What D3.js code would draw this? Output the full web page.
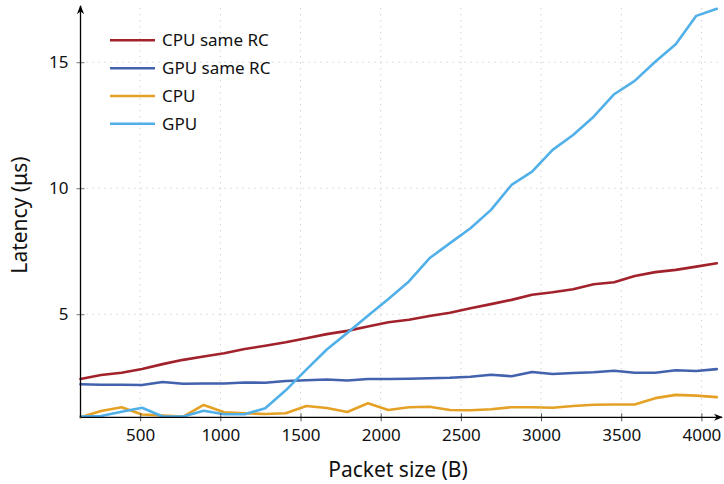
<!DOCTYPE html>
<html>
<head>
<meta charset="utf-8">
<script src="https://cdn.jsdelivr.net/npm/d3@7"></script>
<style>
  body { margin: 0; background: #fff; }
  svg { display: block; font-family: "Noto Sans", sans-serif; }
</style>
</head>
<body>
<svg id="chart" width="724" height="484"></svg>
<script>
const packetSizes = d3.range(1, 33).map(k => k * 128);
const seriesNames = ["CPU same RC", "GPU same RC", "CPU", "GPU"];
const cpuSameRC = [2.43, 2.59, 2.68, 2.83, 3.02, 3.19, 3.32, 3.45, 3.62, 3.75, 3.89, 4.05, 4.21, 4.34, 4.51, 4.68,
                   4.78, 4.93, 5.06, 5.24, 5.40, 5.57, 5.77, 5.87, 5.99, 6.19, 6.27, 6.52, 6.67, 6.76, 6.89, 7.02];
const gpuSameRC = [2.22, 2.20, 2.20, 2.19, 2.31, 2.24, 2.25, 2.25, 2.29, 2.28, 2.35, 2.38, 2.41, 2.37, 2.43, 2.43,
                   2.44, 2.46, 2.48, 2.52, 2.60, 2.54, 2.71, 2.63, 2.67, 2.70, 2.76, 2.68, 2.68, 2.78, 2.75, 2.82];
const cpu = [0.91, 1.16, 1.31, 1.02, 0.98, 0.94, 1.40, 1.11, 1.07, 1.04, 1.07, 1.36, 1.28, 1.12, 1.47, 1.20,
             1.31, 1.33, 1.20, 1.19, 1.23, 1.31, 1.31, 1.29, 1.36, 1.41, 1.42, 1.42, 1.67, 1.80, 1.77, 1.71];
const gpu = [0.94, 0.96, 1.13, 1.29, 0.94, 0.94, 1.17, 1.03, 1.03, 1.27, 1.98, 2.80, 3.60, 4.26, 4.94, 5.60,
             6.30, 7.22, 7.82, 8.41, 9.14, 10.13, 10.66, 11.52, 12.11, 12.84, 13.73, 14.26, 15.02, 15.71, 16.84, 17.12];
const xTicks = [500, 1000, 1500, 2000, 2500, 3000, 3500, 4000];
const yTicks = [5, 10, 15];
const colors = ["#a2222c", "#4262ad", "#e4a126", "#52b0e8"];
const allSeries = [cpuSameRC, gpuSameRC, cpu, gpu];

const svg = d3.select("#chart");
const x = d3.scaleLinear().domain([128, 4096]).range([80.5, 716.8]);
const y = d3.scaleLinear().domain([0.91, 17.12]).range([417.3, 8.8]);

// grid
const grid = svg.append("g").attr("stroke", "#c8c8c8").attr("stroke-width", 1).attr("stroke-dasharray", "1.2,4.8");
grid.selectAll(".vg").data(xTicks).join("line")
  .attr("x1", d => x(d)).attr("x2", d => x(d)).attr("y1", y.range()[0]).attr("y2", y.range()[1] - 2);
grid.selectAll(".hg").data(yTicks).join("line")
  .attr("y1", d => y(d)).attr("y2", d => y(d)).attr("x1", x.range()[0]).attr("x2", x.range()[1] + 3);

// lines
const line = d3.line().x((d, i) => x(packetSizes[i])).y(d => y(d));
allSeries.forEach((s, i) => {
  svg.append("path").datum(s).attr("d", line)
    .attr("fill", "none").attr("stroke", colors[i]).attr("stroke-width", 2.6)
    .attr("stroke-linejoin", "round").attr("stroke-linecap", "round");
});

// axes
const xAxis = svg.append("g").attr("transform", `translate(0,${y.range()[0]})`)
  .call(d3.axisBottom(x).tickValues(xTicks).tickFormat(d3.format("d")).tickSize(0).tickPadding(12));
xAxis.select(".domain").remove();
xAxis.selectAll("text").attr("font-size", 17).attr("fill", "#111").attr("font-family", "Noto Sans");
xAxis.selectAll(".tick").append("line").attr("y1", -4).attr("y2", 4).attr("stroke", "#555").attr("stroke-width", 1);

const yAxis = svg.append("g").attr("transform", `translate(${x.range()[0]},0)`)
  .call(d3.axisLeft(y).tickValues(yTicks).tickFormat(d3.format("d")).tickSize(0).tickPadding(12));
yAxis.select(".domain").remove();
yAxis.selectAll("text").attr("font-size", 17).attr("fill", "#111").attr("font-family", "Noto Sans");
yAxis.selectAll(".tick").append("line").attr("x1", -4).attr("x2", 4).attr("stroke", "#777").attr("stroke-width", 1);

// axis lines with arrows
const defs = svg.append("defs");
defs.append("marker").attr("id", "arr").attr("viewBox", "0 0 10 10").attr("refX", 9).attr("refY", 5)
  .attr("markerWidth", 9).attr("markerHeight", 9).attr("markerUnits", "userSpaceOnUse").attr("orient", "auto")
  .append("path").attr("d", "M0,1 L10,5 L0,9 L3,5 Z").attr("fill", "#000");
svg.append("line").attr("x1", x.range()[0]).attr("x2", 722).attr("y1", y.range()[0]).attr("y2", y.range()[0])
  .attr("stroke", "#000").attr("stroke-width", 1.3).attr("marker-end", "url(#arr)");
svg.append("line").attr("x1", x.range()[0]).attr("x2", x.range()[0]).attr("y1", y.range()[0]).attr("y2", 6)
  .attr("stroke", "#000").attr("stroke-width", 1.3).attr("marker-end", "url(#arr)");

// axis titles
svg.append("text").attr("x", 398).attr("y", 477).attr("text-anchor", "middle")
  .attr("font-size", 21).attr("fill", "#111").text("Packet size (B)");
svg.append("text").attr("transform", "translate(27,215) rotate(-90)").attr("text-anchor", "middle")
  .attr("font-size", 21).attr("fill", "#111").text("Latency (μs)");

// legend
const legY = [40.3, 68.3, 96, 123.7];
const leg = svg.append("g");
seriesNames.forEach((n, i) => {
  leg.append("line").attr("x1", 110).attr("x2", 155).attr("y1", legY[i]).attr("y2", legY[i])
    .attr("stroke", colors[i]).attr("stroke-width", 2.6);
  leg.append("text").attr("x", 162).attr("y", legY[i]).attr("dy", "0.35em")
    .attr("font-size", 17).attr("fill", "#111").text(n);
});
</script>
</body>
</html>
